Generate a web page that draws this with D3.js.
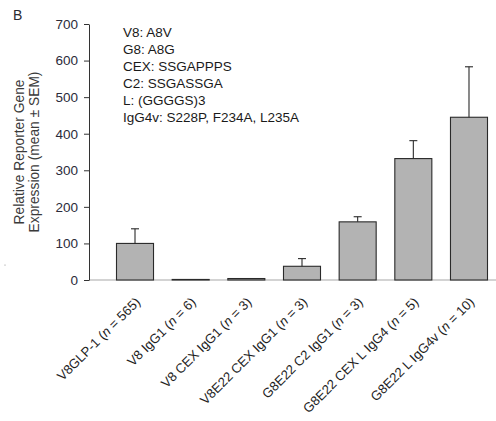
<!DOCTYPE html>
<html>
<head>
<meta charset="utf-8">
<script src="https://cdn.jsdelivr.net/npm/d3@7/dist/d3.min.js"></script>
<style>
  html, body { margin: 0; padding: 0; background: #fff; }
  svg { display: block; font-family: "Liberation Sans", Arial, Helvetica, sans-serif; }
</style>
</head>
<body>
<svg id="chart" width="496" height="421"></svg>
<script>
// Construct names and number of replicates
const constructs = ["V8GLP-1", "V8 IgG1", "V8 CEX IgG1", "V8E22 CEX IgG1",
                    "G8E22 C2 IgG1", "G8E22 CEX L IgG4", "G8E22 L IgG4v"];
const replicates = [565, 6, 3, 3, 3, 5, 10];
// Mean relative reporter gene expression and SEM
const means = [100, 1.5, 4, 37.5, 159, 332, 445];
const sems  = [40, 0, 0, 21, 14, 49, 138];
// Y axis ticks
const yTicks = [0, 100, 200, 300, 400, 500, 600, 700];
// Abbreviation key
const keyLines = ["V8: A8V", "G8: A8G", "CEX: SSGAPPPS", "C2: SSGASSGA",
                  "L: (GGGGS)3", "IgG4v: S228P, F234A, L235A"];

const svg = d3.select("#chart");
const W = 496, H = 421;
const x0 = 89, yTop = 24, yBase = 280;

const x = d3.scaleBand()
  .domain(constructs)
  .range([x0, 515])
  .paddingInner(0.335)
  .paddingOuter(0.494);

const y = d3.scaleLinear().domain([0, 700]).range([yBase, yTop]);

// Panel letter
svg.append("text")
  .attr("x", 13).attr("y", 20)
  .attr("font-size", 14).attr("fill", "#2a2a30")
  .text("B");

// Baseline (x axis)
svg.append("line")
  .attr("x1", x0).attr("x2", W)
  .attr("y1", y(0)).attr("y2", y(0))
  .attr("stroke", "#a8a8a8").attr("stroke-width", 1.2);

// Y axis
const yAxis = svg.append("g")
  .attr("transform", `translate(${x0},0)`)
  .call(d3.axisLeft(y).tickValues(yTicks).tickSize(5).tickSizeOuter(0).tickPadding(6));
yAxis.select(".domain").attr("stroke", "#333").attr("stroke-width", 1);
yAxis.selectAll(".tick line").attr("stroke", "#333");
yAxis.selectAll(".tick text")
  .attr("font-size", 13.5)
  .attr("font-family", "Liberation Sans, Arial, sans-serif")
  .attr("fill", "#2b2b3a");

// Y axis title (two lines)
const yTitle = svg.append("text")
  .attr("transform", "translate(0,152) rotate(-90)")
  .attr("text-anchor", "middle")
  .attr("font-size", 13.8)
  .attr("fill", "#3a3a3a");
yTitle.append("tspan").attr("x", 0).attr("y", 24).text("Relative Reporter Gene");
yTitle.append("tspan").attr("x", 0).attr("y", 39).text("Expression (mean \u00B1 SEM)");

// Bars
svg.append("g").selectAll("rect")
  .data(constructs)
  .join("rect")
  .attr("x", d => x(d))
  .attr("width", x.bandwidth())
  .attr("y", (d, i) => y(means[i]))
  .attr("height", (d, i) => y(0) - y(means[i]))
  .attr("fill", "#b3b3b3")
  .attr("stroke", "#2a2a2a")
  .attr("stroke-width", 1.1);

// Upper error bars
const errs = svg.append("g").attr("stroke", "#2a2a2a").attr("stroke-width", 1.1);
constructs.forEach((d, i) => {
  if (!sems[i]) return;
  const cx = x(d) + x.bandwidth() / 2;
  const top = y(means[i] + sems[i]);
  errs.append("line").attr("x1", cx).attr("x2", cx)
    .attr("y1", y(means[i])).attr("y2", top);
  errs.append("line").attr("x1", cx - 4).attr("x2", cx + 4)
    .attr("y1", top).attr("y2", top);
});

// Category labels, rotated
const labels = svg.append("g")
  .attr("font-size", 13.2)
  .attr("fill", "#1e1e1e");
constructs.forEach((d, i) => {
  const ax = x(d) + x.bandwidth() / 2 + 6;
  const ay = 303;
  const t = labels.append("text")
    .attr("transform", `translate(${ax},${ay}) rotate(-45)`)
    .attr("text-anchor", "end");
  t.append("tspan").text(d + " (");
  t.append("tspan").attr("font-style", "italic").text("n");
  t.append("tspan").text(" = " + replicates[i] + ")");
});

// Abbreviation key
const key = svg.append("text")
  .attr("font-size", 13.5)
  .attr("fill", "#1a1a1a");
keyLines.forEach((s, i) => {
  key.append("tspan").attr("x", 123).attr("y", 37 + i * 17).text(s);
});

// small stray mark at left margin
svg.append("circle").attr("cx", 5).attr("cy", 265).attr("r", 0.6).attr("fill", "#888");
</script>
</body>
</html>
